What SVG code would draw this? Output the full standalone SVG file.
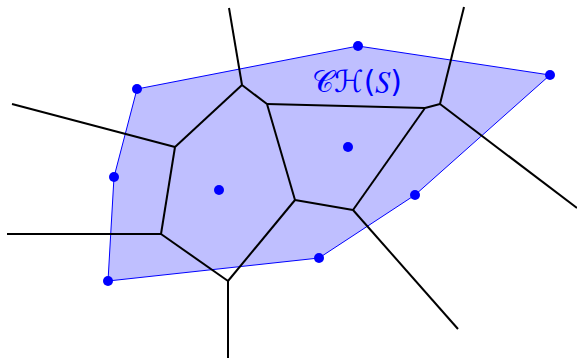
<svg xmlns="http://www.w3.org/2000/svg" width="577" height="358" viewBox="0 0 577 358">
<style>
.hull{fill:#bfbfff;stroke:#0000ff;stroke-width:1}
.edge{stroke:#000;stroke-width:2;fill:none;stroke-linejoin:round}
.site{fill:#0000ff}
.lbl{font-family:"DejaVu Sans","Liberation Serif",serif;font-size:30px;fill:#0000ff}
</style>
<g id="hull"><polygon class="hull" points="137,89 358,46 550,75 415,195 319,258 108,281 114,177"/></g>
<g id="connectors">
<path class="edge" d="M242,85 L229,8"/>
<path class="edge" d="M242,85 L267,104"/>
<path class="edge" d="M242,85 L175,147"/>
<path class="edge" d="M175,147 L12,104"/>
<path class="edge" d="M175,147 L161,234"/>
<path class="edge" d="M161,234 L7,234"/>
<path class="edge" d="M161,234 L228,281"/>
<path class="edge" d="M228,281 L228,358"/>
<path class="edge" d="M228,281 L295,200"/>
<path class="edge" d="M295,200 L267,104"/>
<path class="edge" d="M295,200 L353,210"/>
<path class="edge" d="M353,210 L458,329"/>
<path class="edge" d="M267,104 L425,108"/>
<path class="edge" d="M425,108 L353,210"/>
<path class="edge" d="M425,108 L440,104"/>
<path class="edge" d="M440,104 L464,7"/>
<path class="edge" d="M440,104 L577,208"/>
</g>
<g id="sites">
<circle class="site" cx="137" cy="89" r="5"/>
<circle class="site" cx="358" cy="46" r="5"/>
<circle class="site" cx="550" cy="75" r="5"/>
<circle class="site" cx="415" cy="195" r="5"/>
<circle class="site" cx="319" cy="258" r="5"/>
<circle class="site" cx="108" cy="281" r="5"/>
<circle class="site" cx="114" cy="177" r="5"/>
<circle class="site" cx="219" cy="190" r="5"/>
<circle class="site" cx="348" cy="147" r="5"/>
</g>
<g id="label"><text class="lbl" x="312" y="92">𝒞ℋ(𝑆)</text></g>
</svg>
